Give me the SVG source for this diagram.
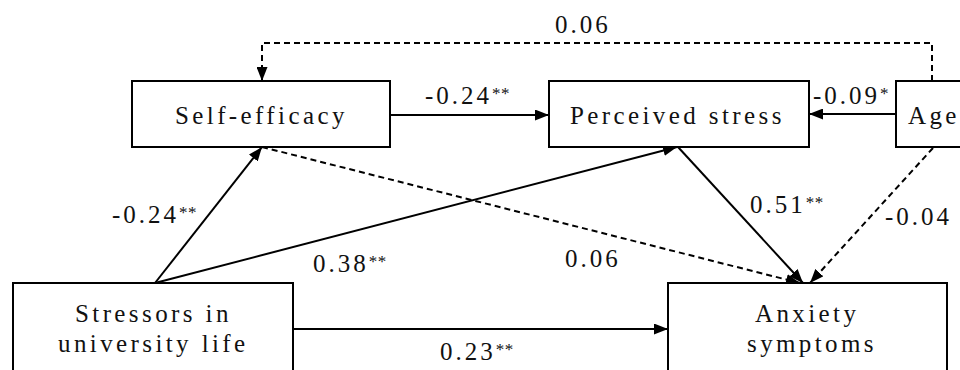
<svg xmlns="http://www.w3.org/2000/svg" width="960" height="370" viewBox="0 0 960 370">
<defs>
<marker id="ah" viewBox="0 0 14 11" refX="14" refY="5.5" markerWidth="14" markerHeight="11" markerUnits="userSpaceOnUse" orient="auto">
<path d="M0,0 L14,5.5 L0,11 z" fill="#000"/>
</marker>
<style>
.box{fill:#fff;stroke:#000;stroke-width:2}
.t{font-family:"Liberation Serif","Times New Roman",serif;font-size:25px;letter-spacing:3.4px;fill:#111}
.lb{font-family:"Liberation Serif","Times New Roman",serif;font-size:25px;letter-spacing:3px;fill:#111}
.st{font-size:17px;letter-spacing:0.5px}
.solid{fill:none;stroke:#000;stroke-width:2;marker-end:url(#ah)}
.dash{fill:none;stroke:#000;stroke-width:2;stroke-dasharray:6,4;marker-end:url(#ah)}
</style>
</defs>
<rect width="960" height="370" fill="#fff"/>
<g id="connectors">
<path class="dash" d="M932,81 V43 H262 V81"/>
<path class="solid" d="M390,115 H549"/>
<path class="solid" d="M896,114 H809"/>
<path class="solid" d="M155,283 L262,147"/>
<path class="solid" d="M155,283 L677,147"/>
<path class="dash" d="M262,147 L800,283"/>
<path class="solid" d="M678,147 L803,283"/>
<path class="dash" d="M933,148 L810,283"/>
<path class="solid" d="M293,329 H668"/>
</g>
<g id="labels">
<text class="lb" x="555" y="33">0.06</text>
<text class="lb" x="425" y="104">-0.24<tspan class="st" dy="-5">**</tspan></text>
<text class="lb" x="813" y="104">-0.09<tspan class="st" dy="-5">*</tspan></text>
<text class="lb" x="112" y="223">-0.24<tspan class="st" dy="-5">**</tspan></text>
<text class="lb" x="313" y="272">0.38<tspan class="st" dy="-5">**</tspan></text>
<text class="lb" x="565" y="267">0.06</text>
<text class="lb" x="750" y="213">0.51<tspan class="st" dy="-5">**</tspan></text>
<text class="lb" x="885" y="225">-0.04</text>
<text class="lb" x="440" y="360">0.23<tspan class="st" dy="-5">**</tspan></text>
</g>
<g id="nodes">
<g id="self-efficacy">
<rect class="box" x="132" y="81" width="258" height="66"/>
<text class="t" x="175" y="124">Self-efficacy</text>
</g>
<g id="perceived-stress">
<rect class="box" x="549" y="81" width="260" height="66"/>
<text class="t" x="570" y="124">Perceived stress</text>
</g>
<g id="age">
<rect class="box" x="896" y="81" width="90" height="66"/>
<text class="t" x="908" y="124">Age</text>
</g>
<g id="stressors">
<rect class="box" x="13" y="283" width="280" height="100"/>
<text class="t" x="75" y="322">Stressors in</text>
<text class="t" x="58" y="352">university life</text>
</g>
<g id="anxiety">
<rect class="box" x="668" y="283" width="279" height="100"/>
<text class="t" x="755" y="322">Anxiety</text>
<text class="t" x="747" y="352">symptoms</text>
</g>
</g>
</svg>
